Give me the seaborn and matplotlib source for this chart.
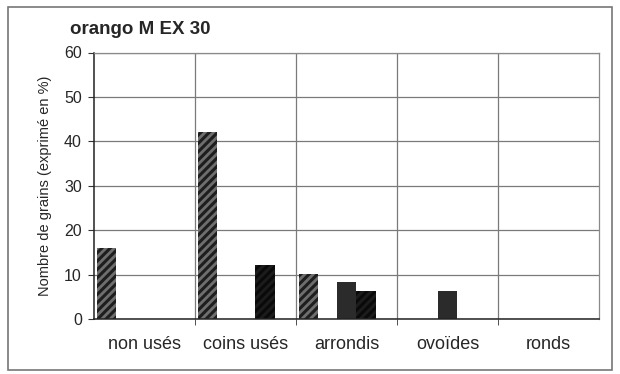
import matplotlib
matplotlib.use("Agg")
import matplotlib.pyplot as plt
import seaborn as sns
import pandas as pd
import numpy as np
from matplotlib.patches import Rectangle

# data
categories = ["non usés", "coins usés", "arrondis", "ovoïdes", "ronds"]
series = ["série 1", "série 2", "série 3", "série 4", "série 5"]
s1 = [16.0, 42.1, 10.1, 0.0, 0.0]
s2 = [0.0, 0.0, 0.0, 0.0, 0.0]
s3 = [0.0, 0.0, 8.3, 6.4, 0.0]
s4 = [0.0, 12.2, 6.3, 0.0, 0.0]
s5 = [0.0, 0.0, 0.0, 0.0, 0.0]
y_ticks = [0, 10, 20, 30, 40, 50, 60]

df = pd.DataFrame({"categorie": categories * 5,
                   "serie": np.repeat(series, len(categories)),
                   "valeur": s1 + s2 + s3 + s4 + s5})

sns.set_style("white")
plt.rcParams["font.family"] = ["Liberation Sans", "DejaVu Sans"]
plt.rcParams["hatch.linewidth"] = 2.2

fig = plt.figure(figsize=(6.2, 3.74), dpi=100)
ax = fig.add_axes([94.5/620, 1-319/374, (599-94.5)/620, (319-52.5)/374])

colors = ["#6e6e6e", "#b0b0b0", "#2b2b2b", "#1c1c1c", "#888888"]
sns.barplot(data=df, x="categorie", y="valeur", hue="serie", order=categories,
            hue_order=series, palette=colors, width=0.955, saturation=1,
            legend=False, ax=ax)

# hatching like the print
for i, cont in enumerate(ax.containers):
    for p in cont.patches:
        p.set_linewidth(0)
        if i == 0:
            p.set_hatch("////")
            p.set_edgecolor("#1e1e1e")
        elif i == 3:
            p.set_hatch("////")
            p.set_edgecolor("#0a0a0a")

ax.set_xlim(-0.5, 4.5)
ax.set_ylim(0, 60)
ax.set_yticks(y_ticks)
ax.set_xticks(range(len(categories)))
ax.set_xticklabels(categories, fontsize=13)
ax.set_xticks(np.arange(0.5, 4.5, 1), minor=True)
ax.tick_params(axis="y", labelsize=11.5, length=4, color="#333333", direction="out", left=True, pad=5)
ax.tick_params(axis="x", which="major", length=0, pad=12)
ax.tick_params(axis="x", which="minor", length=4, color="#333333", direction="out", bottom=True)

ax.grid(False)
ax.yaxis.grid(True, color="#7a7a7a", linewidth=0.9)
ax.xaxis.grid(True, which="minor", color="#7a7a7a", linewidth=0.9)
ax.set_axisbelow(True)

for side in ["left", "bottom"]:
    ax.spines[side].set_color("#222222")
    ax.spines[side].set_linewidth(1.1)
for side in ["top", "right"]:
    ax.spines[side].set_color("#8a8a8a")
    ax.spines[side].set_linewidth(0.9)

ax.set_xlabel("")
ax.set_ylabel("Nombre de grains (exprimé en %)", fontsize=10.5, labelpad=9)
fig.text(70/620, 1-30/374, "orango M EX 30", fontsize=13.5, fontweight="bold", va="center")

# outer frame of the chart
fig.patches.append(Rectangle((8/620, 1-370/374), 604/620, 363/374, transform=fig.transFigure,
                             fill=False, edgecolor="#777777", linewidth=1.2))

plt.savefig("out.png", dpi=100)
